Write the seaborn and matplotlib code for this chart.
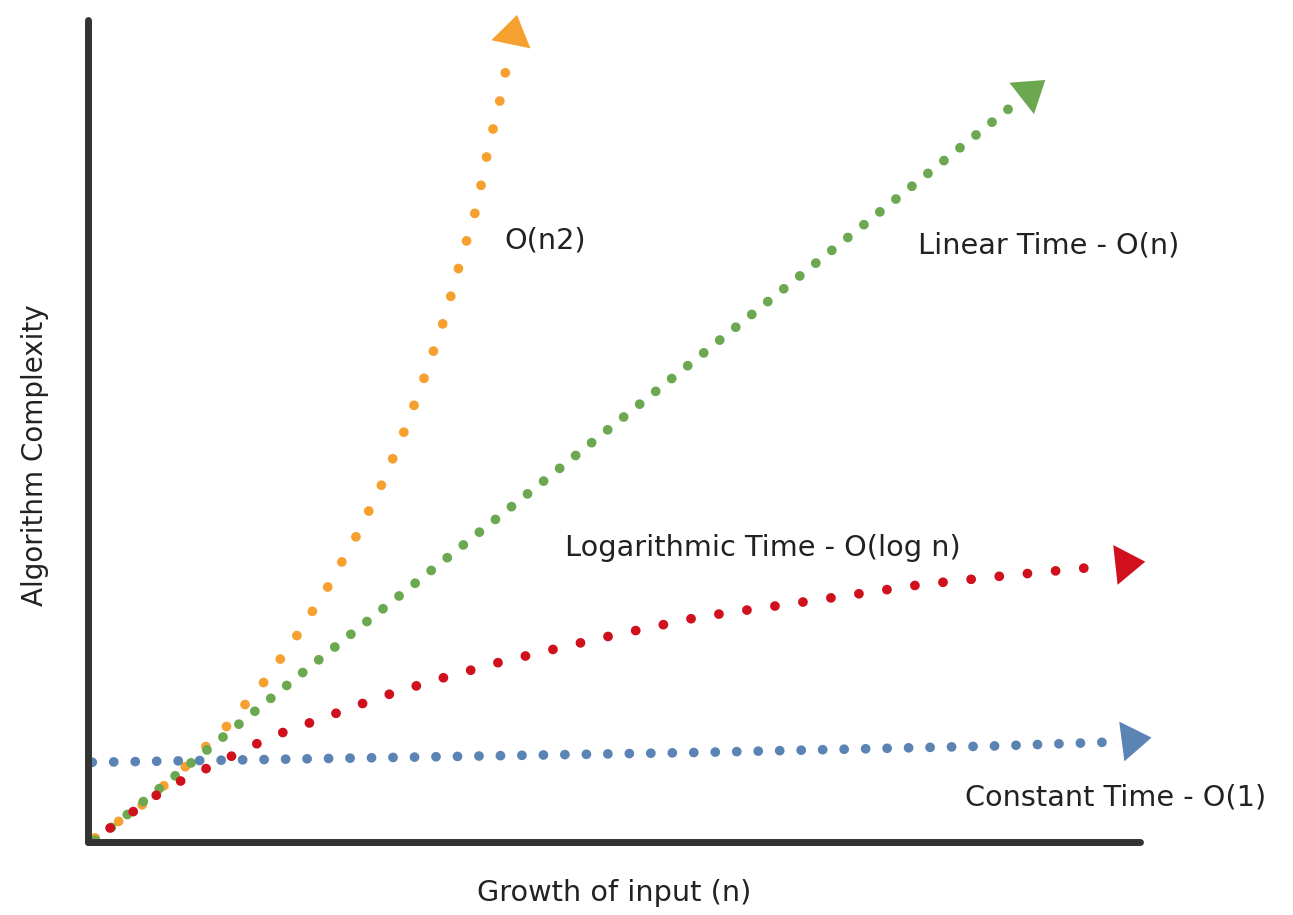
import numpy as np
import pandas as pd
import seaborn as sns
import matplotlib.pyplot as plt

# valores (eje x: crecimiento de n, eje y: complejidad), ultimo punto = punta de flecha
quad_x = [0.67, 5.13, 9.22, 13.21, 16.73, 19.96, 22.91, 25.67, 28.04, 30.23, 32.13,
          33.94, 35.36, 36.98, 38.02, 39.35, 39.83, 40.78]
quad_y = [0.49, 4.50, 9.12, 14.11, 19.46, 25.30, 31.27, 37.59, 43.80, 50.49, 57.06,
          63.87, 70.44, 77.37, 84.18, 91.24, 94.77, 100.61]

lin_x = [0.7, 20.2, 43.7, 67.7, 88.6, 91.0]
lin_y = [0.2, 20.4, 44.3, 68.9, 90.3, 92.7]

log_x = [2.1, 7.5, 12.3, 17.4, 22.6, 27.7, 33.0, 39.2, 48.7, 58.2, 68.0, 79.1, 87.2, 96.2, 100.5]
log_y = [1.7, 6.6, 9.6, 12.8, 15.2, 17.6, 19.7, 21.9, 24.8, 27.4, 29.2, 31.3, 32.4, 33.5, 34.1]

const_x = [0.4, 29.7, 58.2, 86.7, 98.1, 101.1]
const_y = [9.7, 10.3, 10.9, 11.7, 12.2, 12.7]

names = ["O(n2)", "Linear Time - O(n)", "Logarithmic Time - O(log n)", "Constant Time - O(1)"]
colors = ["#F6A030", "#6BA84F", "#D0101C", "#5B84B5"]
gaps = [2.95, 2.1, 2.9, 2.2]
label_pos = [(39.6, 73.2), (78.9, 72.6), (45.3, 35.8), (83.4, 5.4)]

series = [(quad_x, quad_y), (lin_x, lin_y), (log_x, log_y), (const_x, const_y)]

sns.set_theme(style="white")
plt.rcParams['font.family'] = ['DejaVu Sans']

fig = plt.figure(figsize=(12.93, 9.15), dpi=100)
ax = fig.add_axes([0.06806, 0.07978, 0.8136, 0.8984])

for (xs, ys), c, g in zip(series, colors, gaps):
    sns.lineplot(x=xs[:-1], y=ys[:-1], ax=ax, color=c, sort=False, estimator=None,
                 linewidth=7, linestyle=(0, (0.01, g)), dash_capstyle='round',
                 solid_capstyle='round', clip_on=False)
    # cabeza de flecha
    ax.annotate('', xy=(xs[-1], ys[-1]), xytext=(xs[-2], ys[-2]),
                arrowprops=dict(arrowstyle='-|>,head_length=0.6,head_width=0.4',
                                color=c, lw=0, mutation_scale=36, shrinkA=0, shrinkB=0),
                annotation_clip=False)

for name, (tx, ty) in zip(names, label_pos):
    ax.text(tx, ty, name, fontsize=20.7, color="#222222", ha='left', va='center')

ax.set_xlim(0, 100)
ax.set_ylim(0, 100)
ax.set_xticks([])
ax.set_yticks([])
for s in ['top', 'right']:
    ax.spines[s].set_visible(False)
for s in ['left', 'bottom']:
    ax.spines[s].set_linewidth(5)
    ax.spines[s].set_color("#333333")
    ax.spines[s].set_capstyle('round')

ax.set_xlabel("Growth of input (n)", fontsize=20.7, color="#222222", va='center')
ax.set_ylabel("Algorithm Complexity", fontsize=20, color="#222222", va='center')
ax.xaxis.set_label_coords(0.50, -0.062)
ax.yaxis.set_label_coords(-0.050, 0.47)

fig.savefig("out.png", dpi=100, facecolor="white")
